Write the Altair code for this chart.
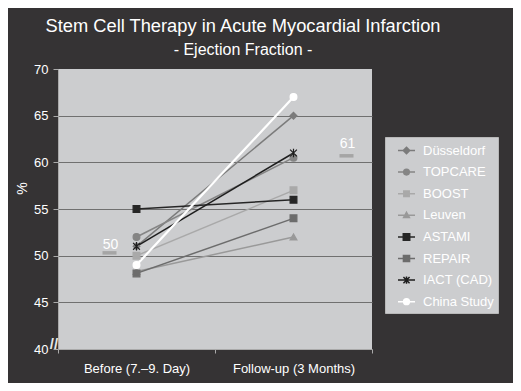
import altair as alt
import pandas as pd

# ---- data ----
series = ["Düsseldorf", "TOPCARE", "BOOST", "Leuven", "ASTAMI", "REPAIR", "IACT (CAD)", "China Study"]
phases = ["Before (7.–9. Day)", "Follow-up (3 Months)"]
before = [51.0, 52.0, 50.0, 48.3, 55.0, 48.1, 51.0, 49.0]
followup = [65.0, 60.5, 57.0, 52.0, 56.0, 54.0, 61.0, 67.0]
colors = ["#7b7b7b", "#858585", "#a9a9a9", "#999999", "#262626", "#6c6c6c", "#1e1e1e", "#ffffff"]
avg_values = [50.3, 60.7]
avg_labels = ["50", "61"]
y_ticks = [40, 45, 50, 55, 60, 65, 70]

star = "M-1,-1L1,1M-1,1L1,-1M0,-1.25L0,1.25"
plot_shapes = ["diamond", "circle", "square", "triangle-up", "square", "square", star, "circle"]
legend_shapes = [
    "M-1,0L1,0M0,-0.38L0.38,0L0,0.38L-0.38,0Z",
    "M-1,0L1,0M-0.33,0A0.33,0.33 0 1,1 0.33,0A0.33,0.33 0 1,1 -0.33,0Z",
    "M-1,0L1,0M-0.32,-0.32L0.32,-0.32L0.32,0.32L-0.32,0.32Z",
    "M-1,0L1,0M0,-0.36L0.34,0.26L-0.34,0.26Z",
    "M-1,0L1,0M-0.38,-0.38L0.38,-0.38L0.38,0.38L-0.38,0.38Z",
    "M-1,0L1,0M-0.36,-0.36L0.36,-0.36L0.36,0.36L-0.36,0.36Z",
    "M-1,0L1,0M-0.36,-0.36L0.36,0.36M-0.36,0.36L0.36,-0.36M0,-0.42L0,0.42",
    "M-1,0L1,0M-0.34,0A0.34,0.34 0 1,1 0.34,0A0.34,0.34 0 1,1 -0.34,0Z",
]

rows = []
for s, b, f in zip(series, before, followup):
    rows.append({"series": s, "phase": phases[0], "value": b})
    rows.append({"series": s, "phase": phases[1], "value": f})
df = pd.DataFrame(rows)

FONT = "Liberation Sans"

x_enc = alt.X("phase:N", sort=phases,
              scale=alt.Scale(domain=phases, paddingInner=0, paddingOuter=0),
              axis=alt.Axis(title=None, tickBand="extent", labelColor="white", labelFontSize=13,
                            labelFont=FONT, labelPadding=9, tickColor="#aaaaaa", tickSize=4,
                            domainColor="#aaaaaa", labelAngle=0, grid=False))
y_scale = alt.Scale(domain=[40, 70], nice=False, zero=False)

color_scale = alt.Scale(domain=series, range=colors)

lines = alt.Chart(df).mark_line().encode(
    x=x_enc,
    y=alt.Y("value:Q", scale=y_scale,
            axis=alt.Axis(values=y_ticks, title="%", titleColor="white", titleFontSize=14,
                          titleFont=FONT, titleFontWeight="normal", titleAngle=-90,
                          titleX=-36, titleY=119, titleAlign="center", titleBaseline="middle",
                          labelColor="white", labelFontSize=13, labelFont=FONT, labelPadding=5,
                          tickColor="#aaaaaa", tickSize=5, domainColor="#aaaaaa",
                          gridColor={"condition": {"test": "datum.value == 70 || datum.value == 40",
                                                   "value": "transparent"},
                                     "value": "#707070"},
                          gridWidth=1.2)),
    stroke=alt.Stroke("series:N", scale=color_scale, legend=None),
    strokeWidth=alt.condition(alt.datum.series == "China Study", alt.value(2.2), alt.value(1.5)),
    detail="series:N",
)

points = alt.Chart(df).mark_point(filled=True, size=46, strokeWidth=1.2, opacity=1).encode(
    x=alt.X("phase:N", sort=phases),
    y=alt.Y("value:Q"),
    fill=alt.Fill("series:N", scale=color_scale, legend=None),
    stroke=alt.Stroke("series:N", scale=color_scale, legend=None),
    shape=alt.Shape("series:N", scale=alt.Scale(domain=series, range=plot_shapes), legend=None),
)

lab_expr = "datum.label + '\u2003\u2003'"
legend_layer = alt.Chart(df).transform_filter("false").mark_point(
    filled=True, size=289, strokeWidth=1.5, opacity=1).encode(
    x=alt.X("phase:N", sort=phases),
    y=alt.Y("value:Q"),
    fill=alt.Fill("series:N", scale=color_scale, legend=alt.Legend(title=None, labelExpr=lab_expr)),
    stroke=alt.Stroke("series:N", scale=color_scale, legend=alt.Legend(title=None, labelExpr=lab_expr)),
    shape=alt.Shape("series:N", scale=alt.Scale(domain=series, range=legend_shapes),
                    legend=alt.Legend(title=None, labelExpr=lab_expr)),
)

avg_df = pd.DataFrame({"phase": phases, "value": avg_values, "label": avg_labels})

avg_before = alt.Chart(avg_df.iloc[[0]]).mark_tick(
    orient="horizontal", size=14, thickness=3.5, color="#a5a5a5", opacity=1, xOffset=-27
).encode(x=alt.X("phase:N", sort=phases), y=alt.Y("value:Q"))
avg_after = alt.Chart(avg_df.iloc[[1]]).mark_tick(
    orient="horizontal", size=14, thickness=3.5, color="#a5a5a5", opacity=1, xOffset=53
).encode(x=alt.X("phase:N", sort=phases), y=alt.Y("value:Q"))
avg_before_txt = alt.Chart(avg_df.iloc[[0]]).mark_text(
    color="white", fontSize=14, font=FONT, baseline="alphabetic", xOffset=-26, dy=-4
).encode(x=alt.X("phase:N", sort=phases), y=alt.Y("value:Q"), text="label:N")
avg_after_txt = alt.Chart(avg_df.iloc[[1]]).mark_text(
    color="white", fontSize=14, font=FONT, baseline="alphabetic", xOffset=54, dy=-8
).encode(x=alt.X("phase:N", sort=phases), y=alt.Y("value:Q"), text="label:N")

brk = alt.Chart(pd.DataFrame({"value": [40]})).mark_text(
    text="//", color="#e8e8e8", fontSize=15, font=FONT, fontWeight="bold", dx=-4, dy=-5
).encode(x=alt.value(0), y=alt.Y("value:Q"))

chart = alt.layer(
    lines, avg_before, avg_after, avg_before_txt, avg_after_txt, points, legend_layer, brk
).resolve_scale(
    shape="independent", fill="independent", stroke="independent"
).properties(
    width=314, height=280,
    title=alt.TitleParams(
        text="Stem Cell Therapy in Acute Myocardial Infarction",
        subtitle="- Ejection Fraction -",
        color="white", subtitleColor="white", fontSize=18.3, subtitleFontSize=16,
        font=FONT, subtitleFont=FONT, fontWeight="normal", anchor="middle",
        dx=28, offset=4, subtitlePadding=6,
    ),
    autosize=alt.AutoSizeParams(type="none"),
    padding={"left": 50, "top": 61, "right": 141, "bottom": 34},
    background="#353334",
).configure_view(
    fill="#cccdcf", stroke=None
).configure_legend(
    orient="none", legendX=327, legendY=68,
    fillColor="#cccdcf", strokeColor="#b8b8b8", padding=4,
    symbolOffset=8, labelOffset=7, rowPadding=4.6, symbolSize=289, symbolStrokeWidth=1.5,
    labelColor="white", labelFontSize=13, labelFont=FONT, symbolOpacity=1,
)

chart.save("out.html", embed_options={"renderer": "svg", "actions": False})
